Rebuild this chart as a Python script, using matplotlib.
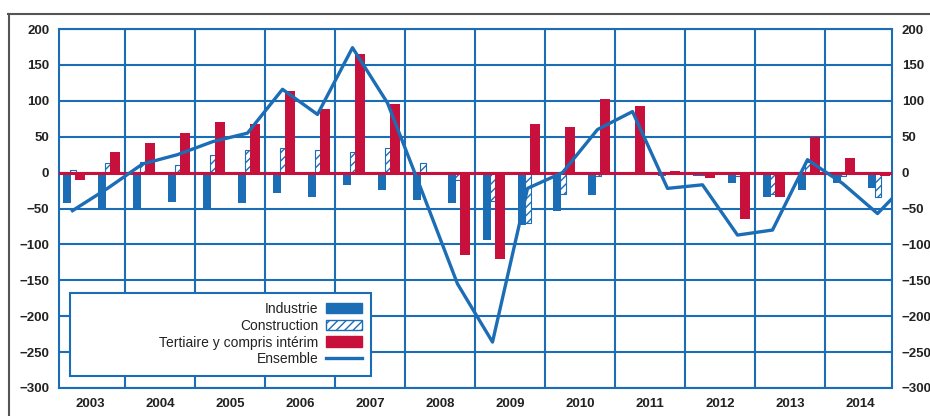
import matplotlib.pyplot as plt
from matplotlib.patches import Patch, Rectangle
from matplotlib.lines import Line2D
import numpy as np

# half-year values, 2003 H1 .. 2014 H2
years = list(range(2003, 2015))
industrie = [-43, -52, -50, -41, -50, -42, -28, -34, -17, -24, -38, -43,
             -94, -73, -54, -31, -3, -5, -5, -14, -34, -24, -15, -22]
construction = [3, 13, 15, 11, 25, 32, 34, 32, 29, 34, 13, -10,
                -40, -70, -30, -5, 0, 0, -3, -5, -30, 15, -5, -34]
tertiaire = [-10, 28, 41, 55, 71, 67, 113, 88, 165, 95, 0, -115,
             -120, 67, 64, 102, 93, 2, -8, -65, -34, 50, 21, -5]
# last value (2015 H1) only shows as the line leaving the frame
ensemble = [-53, -22, 12, 25, 43, 55, 116, 81, 174, 97, -28, -155,
            -236, -22, 0, 60, 85, -22, -17, -87, -80, 18, -15, -57, -7]

blue = '#1b6db6'
red = '#c8103c'
txt = '#222222'

plt.rcParams['font.family'] = ['Liberation Sans', 'DejaVu Sans']

fig = plt.figure(figsize=(9.3, 4.16), dpi=100)
ax = fig.add_axes([59 / 930, 1 - 388 / 416, (892 - 59) / 930, (388 - 29) / 416])

x = 2003.25 + 0.5 * np.arange(len(industrie))
xl = 2003.25 + 0.5 * np.arange(len(ensemble))

ax.bar(x - 0.079, industrie, width=0.12, color=blue, zorder=3)
ax.bar(x + 0.007, construction, width=0.09, color='white', edgecolor=blue,
       hatch='////', linewidth=0.8, zorder=3)
ax.bar(x + 0.107, tertiaire, width=0.135, color=red, zorder=4)
ax.axhline(0, color=red, lw=2.2, zorder=4)
ax.plot(xl, ensemble, color=blue, lw=2.4, zorder=5)

ax.set_xlim(2003 + 4 / 70, 2003 + 837 / 70)
ax.set_ylim(-300, 200)

yt = np.arange(-300, 201, 50)
ax.set_yticks(yt)
ax.set_yticklabels(['\u2212' + str(-v) if v < 0 else str(v) for v in yt])
ax.set_xticks(years[1:])
ax.set_xticklabels([])
ax.set_xticks([y + 0.5 for y in years], minor=True)
ax.set_xticklabels([str(y) for y in years], minor=True, fontsize=9.5,
                   color=txt, fontweight='bold')
ax.tick_params(axis='x', which='both', length=0, pad=7)
ax.tick_params(axis='y', length=0, pad=7, labelsize=9.5, labelcolor=txt,
               right=True, labelright=True)
for t in ax.yaxis.get_major_ticks():
    t.label1.set_fontweight('bold')
    t.label2.set_fontweight('bold')

ax.grid(True, which='major', color=blue, lw=1.5, zorder=1)
for s in ax.spines.values():
    s.set_color(blue)
    s.set_linewidth(1.5)

# legend: blue frame wider than its entries
box = Rectangle((0.013, 0.033), 0.362, 0.232, transform=ax.transAxes,
                facecolor='white', edgecolor=blue, lw=1.5, zorder=6)
ax.add_patch(box)
handles = [Patch(facecolor=blue, edgecolor=blue),
           Patch(facecolor='white', edgecolor=blue, hatch='////'),
           Patch(facecolor=red, edgecolor=red),
           Line2D([0], [0], color=blue, lw=2.4)]
labels = ['Industrie', 'Construction', 'Tertiaire y compris intérim', 'Ensemble']
leg = ax.legend(handles, labels, loc='lower right', bbox_to_anchor=(0.37, 0.045),
                frameon=False, markerfirst=False, fontsize=10, handlelength=2.6,
                handleheight=0.8, labelspacing=0.2, handletextpad=0.5,
                borderaxespad=0)
leg.set_zorder(7)
for t in leg.get_texts():
    t.set_color(txt)

# outer frame of the scanned figure
fig.add_artist(Line2D([8 / 930, 1], [1 - 14 / 416, 1 - 14 / 416], color='#555555', lw=1.5))
fig.add_artist(Line2D([9 / 930, 9 / 930], [0, 1 - 14 / 416], color='#555555', lw=1.5))

fig.savefig('out.png', dpi=100)
